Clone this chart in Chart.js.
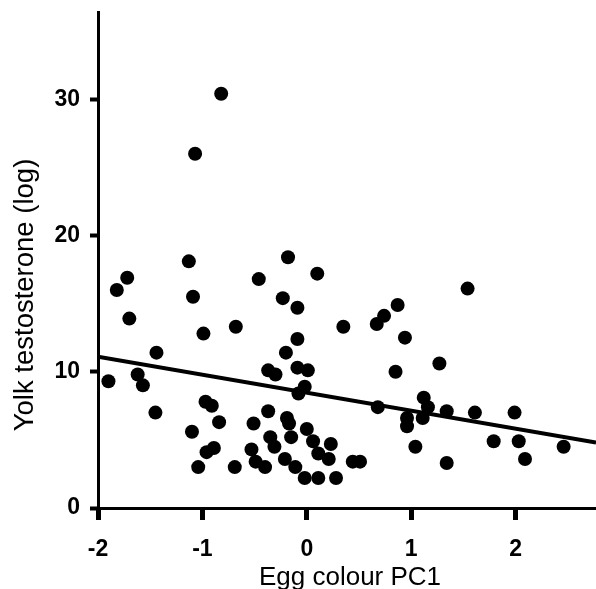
<!DOCTYPE html>
<html>
<head>
<meta charset="utf-8">
<script src="https://cdn.jsdelivr.net/npm/chart.js@4"></script>
<style>
  html, body { margin: 0; padding: 0; background: #ffffff; }
  #wrap { width: 596px; height: 589px; }
</style>
</head>
<body>
<div id="wrap"><canvas id="c" width="596" height="589"></canvas></div>
<script>
// ---- data ----
const xTitle = "Egg colour PC1";
const yTitle = "Yolk testosterone (log)";
const xTicks = [-2, -1, 0, 1, 2];
const yTicks = [0, 10, 20, 30];

const eggColourPC1 = [
  -0.82, -1.07, -1.13, -1.72, -1.82, -1.70, -1.44, -1.90, -1.62, -1.57,
  -1.45, -1.09, -0.99, -0.68, -0.46, -0.37, -0.30, -0.18,  0.10, -0.23,
  -0.09,  0.35, -0.09, -0.20, -0.09,  0.01, -0.02, -0.08, -0.97, -0.91,
  -0.84, -1.10, -0.37, -0.51, -0.35, -0.31, -0.96, -0.89, -1.04, -0.69,
  -0.53, -0.49, -0.40, -0.19, -0.17, -0.15,  0.00,  0.06,  0.23,  0.11,
   0.21, -0.21, -0.11, -0.02,  0.11,  0.28,  0.44,  0.51,  1.54,  0.87,
   0.74,  0.67,  0.94,  1.27,  0.85,  0.68,  1.12,  1.16,  1.11,  0.96,
   0.96,  1.34,  1.61,  1.99,  1.79,  2.03,  2.09,  2.46,  1.04,  1.34
];
const yolkTestosterone = [
  30.4, 26.0, 18.1, 16.9, 16.0, 13.9, 11.4,  9.3,  9.8,  9.0,
   7.0, 15.5, 12.8, 13.3, 16.8, 10.1,  9.8, 18.4, 17.2, 15.4,
  14.7, 13.3, 12.4, 11.4, 10.3, 10.1,  8.9,  8.4,  7.8,  7.5,
   6.3,  5.6,  7.1,  6.2,  5.2,  4.5,  4.1,  4.4,  3.0,  3.0,
   4.3,  3.4,  3.0,  6.6,  6.2,  5.2,  5.8,  4.9,  4.7,  4.0,
   3.6,  3.6,  3.0,  2.2,  2.2,  2.2,  3.4,  3.4, 16.1, 14.9,
  14.1, 13.5, 12.5, 10.6, 10.0,  7.4,  8.1,  7.4,  6.6,  6.6,
   6.0,  7.1,  7.0,  7.0,  4.9,  4.9,  3.6,  4.5,  4.5,  3.3
];
const fitX = [-2, 2.77];
const fitY = [11.1, 4.8];

// ---- chart ----
const points = eggColourPC1.map((x, i) => ({ x: x, y: yolkTestosterone[i] }));
const fitLine = fitX.map((x, i) => ({ x: x, y: fitY[i] }));

const FONT = "'Liberation Sans', Arial, Helvetica, sans-serif";

const titlePlugin = {
  id: 'axisTitles',
  afterDraw(chart) {
    const ctx = chart.ctx;
    const a = chart.chartArea;
    ctx.save();
    ctx.fillStyle = '#000';
    ctx.textAlign = 'center';
    ctx.textBaseline = 'alphabetic';
    ctx.font = '26px ' + FONT;
    ctx.fillText(xTitle, (a.left + a.right) / 2 + 3, 585);
    ctx.translate(33, 295);
    ctx.rotate(-Math.PI / 2);
    ctx.font = '27.5px ' + FONT;
    ctx.fillText(yTitle, 0, 0);
    ctx.restore();
  }
};

new Chart(document.getElementById('c'), {
  type: 'scatter',
  data: {
    datasets: [
      {
        label: 'Eggs',
        data: points,
        backgroundColor: '#000',
        borderWidth: 0,
        pointRadius: 7,
        pointHoverRadius: 7,
        pointStyle: 'circle'
      },
      {
        label: 'Fit',
        type: 'line',
        data: fitLine,
        borderColor: '#000',
        borderWidth: 4,
        pointRadius: 0,
        fill: false,
        tension: 0
      }
    ]
  },
  options: {
    responsive: false,
    animation: false,
    devicePixelRatio: 1,
    layout: { autoPadding: false, padding: { top: 12, right: 0, left: 0, bottom: 0 } },
    plugins: {
      legend: { display: false },
      tooltip: { enabled: false }
    },
    scales: {
      x: {
        type: 'linear',
        min: -2,
        max: 2.77,
        afterBuildTicks: s => { s.ticks = xTicks.map(v => ({ value: v })); },
        afterFit: s => { s.height = 81; s.paddingLeft = 0; s.paddingRight = 0; },
        ticks: {
          color: '#000',
          font: { family: FONT, size: 23, weight: 'bold' },
          padding: 16,
          maxRotation: 0,
          autoSkip: false
        },
        grid: {
          drawOnChartArea: false,
          drawTicks: true,
          tickLength: 12,
          tickWidth: 5,
          tickColor: '#000'
        },
        border: { display: true, color: '#000', width: 3 },
        title: { display: false }
      },
      y: {
        type: 'linear',
        min: 0,
        max: 36.4,
        afterBuildTicks: s => { s.ticks = yTicks.map(v => ({ value: v })); },
        afterFit: s => { s.width = 98; s.paddingTop = 0; s.paddingBottom = 0; },
        ticks: {
          color: '#000',
          font: { family: FONT, size: 23, weight: 'bold' },
          padding: 10,
          autoSkip: false
        },
        grid: {
          drawOnChartArea: false,
          drawTicks: true,
          tickLength: 8,
          tickWidth: 4,
          tickColor: '#000'
        },
        border: { display: true, color: '#000', width: 3 },
        title: { display: false }
      }
    }
  },
  plugins: [titlePlugin]
});
</script>
</body>
</html>
